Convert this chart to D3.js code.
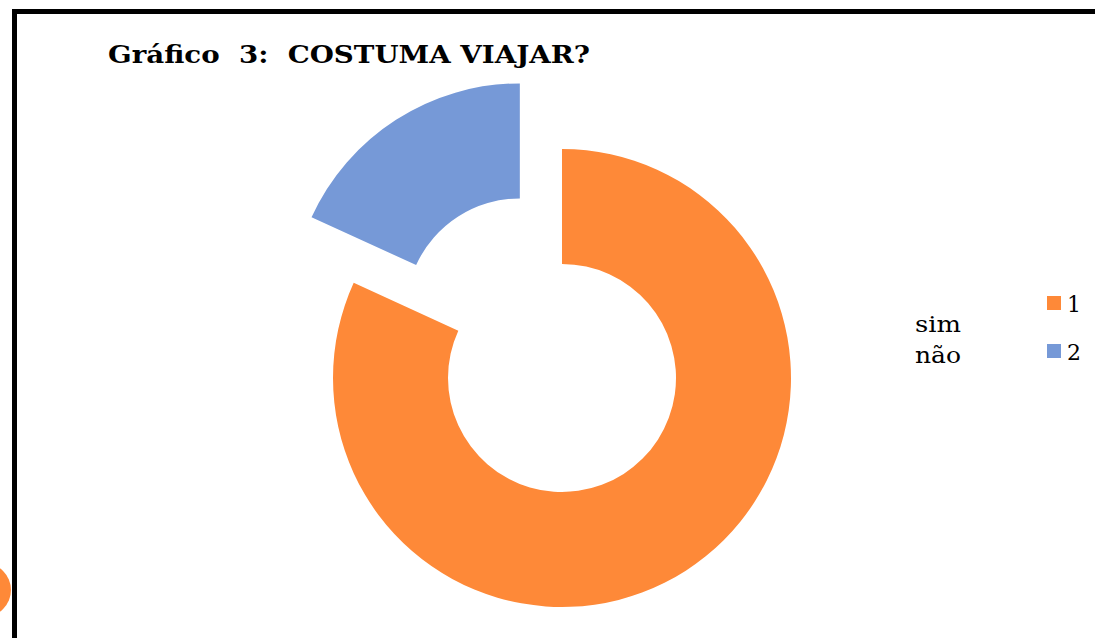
<!DOCTYPE html>
<html><head><meta charset="utf-8">
<script src="https://cdn.jsdelivr.net/npm/d3@7"></script>
<style>html,body{margin:0;padding:0;background:#fff;overflow:hidden}</style>
</head><body>
<svg id="c" width="1095" height="638"></svg>
<script>
const categories = ["sim", "não"];
const values = [45, 10];
const legendKeys = ["1", "2"];
const colors = ["#FE8938", "#7699D7"];
const explode = [0, 78];
const title = "Gráfico  3:  COSTUMA VIAJAR?";

const svg = d3.select("#c");
const W = 1095, H = 638;

// decorative border
svg.append("rect").attr("x", 0).attr("y", 0).attr("width", W).attr("height", H).attr("fill", "#fff");
svg.append("circle").attr("cx", -16).attr("cy", 590).attr("r", 27).attr("fill", "#FE8938");
svg.append("line").attr("x1", 12).attr("x2", W).attr("y1", 11.5).attr("y2", 11.5).attr("stroke", "#000").attr("stroke-width", 5);
svg.append("line").attr("x1", 14.5).attr("x2", 14.5).attr("y1", 9).attr("y2", H).attr("stroke", "#000").attr("stroke-width", 5);

svg.append("text").attr("x", 108).attr("y", 63)
  .attr("font-family", "'DejaVu Serif', serif").attr("font-weight", "bold")
  .attr("font-size", 24).attr("fill", "#000").style("white-space", "pre")
  .attr("textLength", 482).attr("lengthAdjust", "spacingAndGlyphs")
  .text(title);

const cx = 562, cy = 378, rOut = 229, rIn = 114;
const pie = d3.pie().sort(null).value(d => d)(values);
const arc = d3.arc().innerRadius(rIn).outerRadius(rOut);
const g = svg.append("g").attr("transform", `translate(${cx},${cy})`);
g.selectAll("path").data(pie).join("path")
  .attr("d", arc)
  .attr("fill", (d, i) => colors[i])
  .attr("transform", (d, i) => {
    const a = (d.startAngle + d.endAngle) / 2;
    return `translate(${Math.sin(a) * explode[i]},${-Math.cos(a) * explode[i]})`;
  });

// legend
const lg = svg.append("g");
categories.forEach((c, i) => {
  lg.append("text").attr("x", 915).attr("y", 332 + i * 31)
    .attr("font-family", "'DejaVu Serif', serif").attr("font-size", 22).attr("fill", "#000")
    .attr("textLength", 46).attr("lengthAdjust", "spacingAndGlyphs").text(c);
  lg.append("rect").attr("x", 1047).attr("y", 296 + i * 48).attr("width", 14).attr("height", 14).attr("fill", colors[i]);
  lg.append("text").attr("x", 1067).attr("y", 312 + i * 48)
    .attr("font-family", "'DejaVu Serif', serif").attr("font-size", 22).attr("fill", "#000").text(legendKeys[i]);
});
</script>
</body></html>
